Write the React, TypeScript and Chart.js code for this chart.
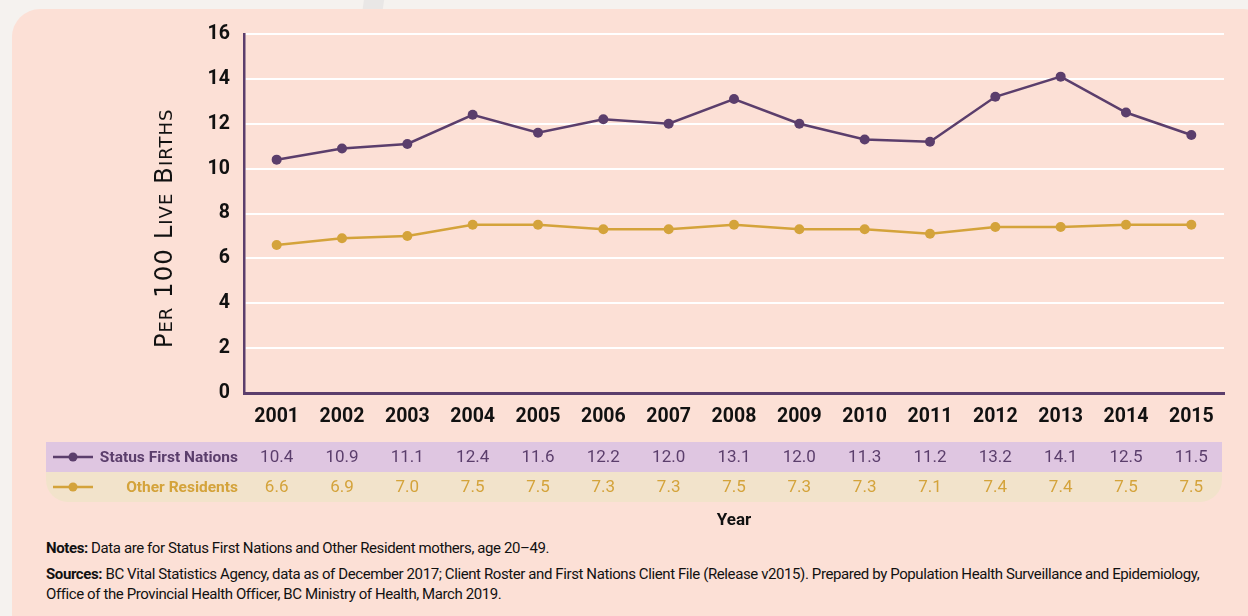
import React, { useEffect, useRef } from "react";
import { Chart, registerables } from "chart.js";

Chart.register(...registerables);

const years = ["2001", "2002", "2003", "2004", "2005", "2006", "2007", "2008", "2009", "2010", "2011", "2012", "2013", "2014", "2015"];
const firstNations = [10.4, 10.9, 11.1, 12.4, 11.6, 12.2, 12.0, 13.1, 12.0, 11.3, 11.2, 13.2, 14.1, 12.5, 11.5];
const otherResidents = [6.6, 6.9, 7.0, 7.5, 7.5, 7.3, 7.3, 7.5, 7.3, 7.3, 7.1, 7.4, 7.4, 7.5, 7.5];
const seriesNames = ["Status First Nations", "Other Residents"];
const yMin = 0;
const yMax = 16;
const yStep = 2;
const yTitle = "Per 100 Live Births";
const xTitle = "Year";
const notesLabel = "Notes:";
const notesText = " Data are for Status First Nations and Other Resident mothers, age 20\u201349.";
const sourcesLabel = "Sources:";
const sourcesText =
  " BC Vital Statistics Agency, data as of December 2017; Client Roster and First Nations Client File (Release v2015). Prepared by Population Health Surveillance and Epidemiology, Office of the Provincial Health Officer, BC Ministry of Health, March 2019.";

const PURPLE = "#5b3e6c";
const GOLD = "#d4a33b";
const PURPLE_ROW = "#dfc6e1";
const GOLD_ROW = "#f2e3cb";
const PANEL = "#fce0d6";
const PAGE = "#f5f2ef";
const NARROW = 'Roboto, "Liberation Sans", sans-serif';
const TITLE_FONT = '"DejaVu Sans", sans-serif';

const tablePlugin = {
  id: "dataTable",
  afterDraw(chart: any) {
    const ctx: CanvasRenderingContext2D = chart.ctx;
    const xs = chart.scales.x;
    const top = chart.chartArea.bottom + 49;
    const rowH = 30;
    const left = 46;
    const right = chart.chartArea.right - 2;
    const rows = [
      { name: seriesNames[0], values: firstNations, color: PURPLE, bg: PURPLE_ROW },
      { name: seriesNames[1], values: otherResidents, color: GOLD, bg: GOLD_ROW },
    ];
    ctx.save();
    rows.forEach((r, i) => {
      const y = top + i * rowH;
      ctx.fillStyle = r.bg;
      ctx.beginPath();
      if (i === rows.length - 1) ctx.roundRect(left, y, right - left, rowH, [0, 0, 22, 22]);
      else ctx.rect(left, y, right - left, rowH);
      ctx.fill();
      const cy = y + rowH / 2;
      ctx.strokeStyle = r.color;
      ctx.lineWidth = 2.5;
      ctx.beginPath();
      ctx.moveTo(53, cy);
      ctx.lineTo(93, cy);
      ctx.stroke();
      ctx.fillStyle = r.color;
      ctx.beginPath();
      ctx.arc(73, cy, 4.5, 0, Math.PI * 2);
      ctx.fill();
      ctx.font = `bold 15.5px ${NARROW}`;
      ctx.textAlign = "right";
      ctx.textBaseline = "middle";
      ctx.fillText(r.name, 238, cy + 1);
      ctx.font = `17px ${NARROW}`;
      ctx.textAlign = "center";
      r.values.forEach((v, k) => {
        ctx.fillText(v.toFixed(1), xs.getPixelForTick(k), cy + 1);
      });
    });
    ctx.restore();
  },
};

const yTitlePlugin = {
  id: "yTitleSmallCaps",
  afterDraw(chart: any) {
    const ctx: CanvasRenderingContext2D = chart.ctx;
    const big = 24.5;
    const small = 18;
    const spacing = 1;
    const runs: { t: string; size: number; w: number }[] = [];
    for (const ch of yTitle) {
      const isSmall = ch !== ch.toUpperCase();
      const size = isSmall ? small : big;
      const c = ch.toUpperCase();
      const last = runs[runs.length - 1];
      if (last && last.size === size) last.t += c;
      else runs.push({ t: c, size, w: 0 });
    }
    ctx.save();
    (ctx as any).letterSpacing = `${spacing}px`;
    let total = 0;
    runs.forEach((r) => {
      ctx.font = `${r.size}px ${TITLE_FONT}`;
      r.w = ctx.measureText(r.t).width;
      total += r.w;
    });
    const cx = 163;
    const cy = (chart.chartArea.top + chart.chartArea.bottom) / 2 + 15;
    ctx.translate(cx, cy);
    ctx.rotate(-Math.PI / 2);
    ctx.fillStyle = "#111";
    ctx.textAlign = "left";
    ctx.textBaseline = "alphabetic";
    let x = -total / 2;
    runs.forEach((r) => {
      ctx.font = `${r.size}px ${TITLE_FONT}`;
      ctx.fillText(r.t, x, 9);
      x += r.w;
    });
    ctx.restore();
  },
};

export default function App() {
  const ref = useRef<HTMLCanvasElement | null>(null);

  useEffect(() => {
    if (!ref.current) return;
    const canvasH = 535;
    const chart = new Chart(ref.current, {
      type: "line",
      data: {
        labels: years,
        datasets: [
          {
            label: seriesNames[0],
            data: firstNations,
            borderColor: PURPLE,
            backgroundColor: PURPLE,
            borderWidth: 2.5,
            pointRadius: 5,
            pointBorderWidth: 0,
            pointBackgroundColor: PURPLE,
            tension: 0,
          },
          {
            label: seriesNames[1],
            data: otherResidents,
            borderColor: GOLD,
            backgroundColor: GOLD,
            borderWidth: 2.5,
            pointRadius: 5,
            pointBorderWidth: 0,
            pointBackgroundColor: GOLD,
            tension: 0,
          },
        ],
      },
      options: {
        responsive: false,
        animation: false,
        devicePixelRatio: 1,
        layout: { padding: { left: 0, right: 24, top: 34, bottom: 0 } },
        plugins: {
          legend: { display: false },
          tooltip: { enabled: false },
        },
        scales: {
          x: {
            type: "category",
            offset: true,
            grid: { display: false, drawTicks: false },
            border: { display: true, color: PURPLE, width: 3 },
            ticks: {
              color: "#111",
              font: { family: NARROW, size: 19.5, weight: "bold" },
              padding: 12,
              maxRotation: 0,
            },
            title: {
              display: true,
              text: xTitle,
              color: "#111",
              font: { family: NARROW, size: 17, weight: "bold" },
              padding: { top: 0, bottom: 4 },
            },
            afterFit(scale: any) {
              scale.height = canvasH - 393;
            },
          },
          y: {
            min: yMin,
            max: yMax,
            grid: { color: "#ffffff", lineWidth: 2, drawTicks: false },
            border: { display: true, color: PURPLE, width: 2.5 },
            ticks: {
              stepSize: yStep,
              color: "#111",
              font: { family: NARROW, size: 19.5, weight: "bold" },
              padding: 14,
            },
            afterFit(scale: any) {
              scale.width = 244;
            },
          },
        },
      },
      plugins: [tablePlugin, yTitlePlugin],
    } as any);
    return () => chart.destroy();
  }, []);

  return (
    <div style={{ position: "fixed", inset: 0, background: PAGE, overflow: "hidden" }}>
      <div
        style={{
          position: "absolute",
          left: 364,
          top: -20,
          width: 20,
          height: 40,
          background: "#e9e7e6",
          borderRadius: "0 0 12px 10px",
          transform: "rotate(8deg)",
        }}
      />
      <div
        style={{
          position: "absolute",
          left: 12,
          top: 9,
          width: 1250,
          height: 640,
          background: PANEL,
          borderRadius: "28px 18px 0 0",
        }}
      />
      <canvas ref={ref} width={1248} height={535} style={{ position: "absolute", left: 0, top: 0, width: 1248, height: 535 }} />
      <div
        style={{
          position: "absolute",
          left: 46,
          top: 538,
          width: 1170,
          fontFamily: NARROW,
          fontSize: 15,
          letterSpacing: "-0.4px",
          color: "#111",
          lineHeight: "20px",
        }}
      >
        <div style={{ marginBottom: 6 }}>
          <b>{notesLabel}</b>
          {notesText}
        </div>
        <div>
          <b>{sourcesLabel}</b>
          {sourcesText}
        </div>
      </div>
    </div>
  );
}
